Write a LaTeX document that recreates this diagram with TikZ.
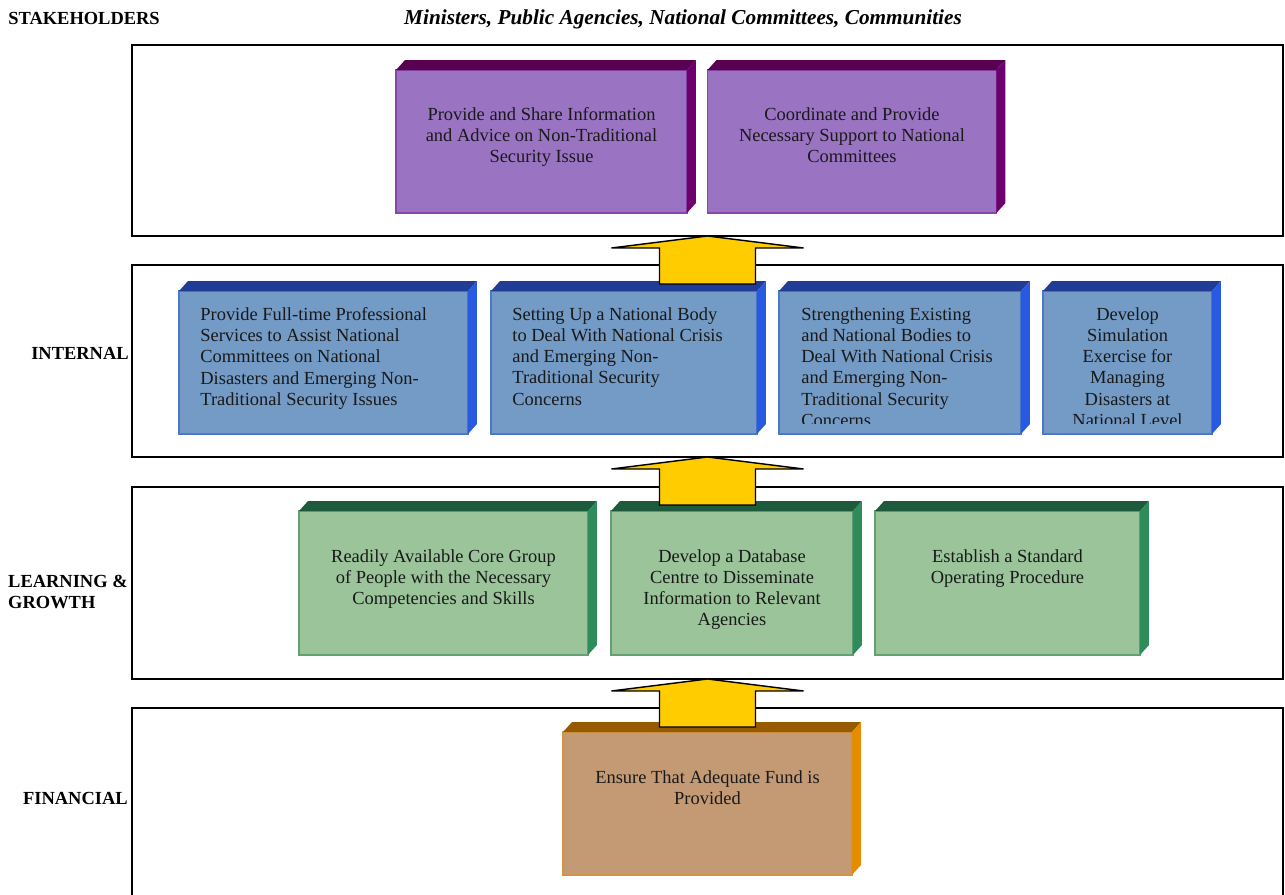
\documentclass[tikz,border=0pt]{standalone}
\usepackage{fontspec}
\setmainfont{Liberation Serif}
\usetikzlibrary{calc, positioning}

\definecolor{purpfront}{RGB}{155,115,195}
\definecolor{purpedge}{RGB}{135,70,170}
\definecolor{purptop}{RGB}{88,0,82}
\definecolor{purpside}{RGB}{110,0,110}
\definecolor{bluefront}{RGB}{115,155,198}
\definecolor{blueedge}{RGB}{75,120,200}
\definecolor{bluetop}{RGB}{33,60,150}
\definecolor{blueside}{RGB}{40,90,225}
\definecolor{greenfront}{RGB}{155,196,155}
\definecolor{greenedge}{RGB}{100,160,115}
\definecolor{greentop}{RGB}{30,90,60}
\definecolor{greenside}{RGB}{46,140,90}
\definecolor{brownfront}{RGB}{196,154,116}
\definecolor{brownedge}{RGB}{210,150,65}
\definecolor{browntop}{RGB}{150,90,0}
\definecolor{brownside}{RGB}{230,140,0}
\definecolor{arrowyellow}{RGB}{255,204,0}

\tikzset{
	panel/.style={draw=black, line width=1.2pt, minimum width=23.02cm, inner sep=0pt, outer sep=0pt},
	face/.style={line width=1pt, inner sep=0pt, outer sep=0pt},
	purplebox/.style={face, draw=purpedge, fill=purpfront},
	bluebox/.style={face, draw=blueedge, fill=bluefront},
	greenbox/.style={face, draw=greenedge, fill=greenfront},
	brownbox/.style={face, draw=brownedge, fill=brownfront},
	boxtext/.style={inner sep=0pt, text=black!90, font=\fontsize{10.5}{12.1}\selectfont},
	lbl/.style={inner sep=0pt, font=\fontsize{10.5}{12.1}\selectfont\bfseries},
	yellowarrow/.style={draw=black, fill=arrowyellow, line width=0.8pt, line join=miter}
}

% top and side faces of a box
\newcommand{\cubeside}[3]{
	\fill[#2] (#1.north west) -- ++(9,-10) -- ($(#1.north east)+(9,-10)$) -- (#1.north east) -- cycle;
	\fill[#3] (#1.north east) -- ++(9,-10) -- ($(#1.south east)+(9,-10)$) -- (#1.south east) -- cycle;
}
% block arrow, tip at #1
\newcommand{\liftarrow}[1]{
	\filldraw[yellowarrow] (#1) -- ++(96,12) -- ++(-48,0) -- ++(0,36) -- ++(-96,0) -- ++(0,-36) -- ++(-48,0) -- cycle;
}

\begin{document}
\begin{tikzpicture}[x=0.02cm, y=-0.02cm]

	\useasboundingbox (0,0) rectangle (1285,895);
	\clip (0,0) rectangle (1285,895);

	\node[lbl, anchor=west] (stkl) at (8,18) {STAKEHOLDERS};
	\node[lbl, font=\fontsize{12.1}{14}\selectfont\bfseries\itshape] (ttl) at (683,19) {Ministers, Public Agencies, National Committees, Communities};
	\node[lbl, anchor=east] (intl) at (129,353) {INTERNAL};
	\node[lbl, anchor=east, align=left] (lrnl) at (128,592) {LEARNING \&\\GROWTH};
	\node[lbl, anchor=east] (finl) at (128,798) {FINANCIAL};

	\node[panel, minimum height=3.82cm] (stk) at (707.5,140.5) {};
	\node[panel, minimum height=3.84cm] (int) at (707.5,361) {};
	\node[panel, minimum height=3.84cm] (lrn) at (707.5,583) {};
	\node[panel, minimum height=4.54cm] (fin) at (707.5,821.5) {};

	% stakeholders
	\node[purplebox, minimum width=5.82cm, minimum height=2.86cm] (pu1) at (541.5,141.5) {};
	\node[purplebox, minimum width=5.78cm, minimum height=2.86cm] (pu2) at (852,141.5) {};
	\cubeside{pu1}{purptop}{purpside}
	\cubeside{pu2}{purptop}{purpside}
	\node[boxtext, align=center, below=0.74cm of pu1.north] (pu1t) {Provide and Share Information\\and Advice on Non-Traditional\\Security Issue};
	\node[boxtext, align=center, below=0.74cm of pu2.north] (pu2t) {Coordinate and Provide\\Necessary Support to National\\Committees};

	% internal
	\node[bluebox, minimum width=5.78cm, minimum height=2.86cm] (bl1) at (323.5,362.5) {};
	\node[bluebox, minimum width=5.32cm, minimum height=2.86cm] (bl2) at (624,362.5) {};
	\node[bluebox, minimum width=4.84cm, minimum height=2.86cm] (bl3) at (900,362.5) {};
	\node[bluebox, minimum width=3.38cm, minimum height=2.86cm] (bl4) at (1127.5,362.5) {};
	\cubeside{bl1}{bluetop}{blueside}
	\cubeside{bl2}{bluetop}{blueside}
	\cubeside{bl3}{bluetop}{blueside}
	\cubeside{bl4}{bluetop}{blueside}
	\begin{scope}
		\clip (132,280) rectangle (1283,423);
		\node[boxtext, align=left, below right=0.32cm and 0.42cm of bl1.north west] (bl1t) {Provide Full-time Professional\\Services to Assist National\\Committees on National\\Disasters and Emerging Non-\\Traditional Security Issues};
		\node[boxtext, align=left, below right=0.32cm and 0.42cm of bl2.north west] (bl2t) {Setting Up a National Body\\to Deal With National Crisis\\and Emerging Non-\\Traditional Security\\Concerns};
		\node[boxtext, align=left, below right=0.32cm and 0.44cm of bl3.north west] (bl3t) {Strengthening Existing\\and National Bodies to\\Deal With National Crisis\\and Emerging Non-\\Traditional Security\\Concerns};
		\node[boxtext, align=center, below=0.32cm of bl4.north] (bl4t) {Develop\\Simulation\\Exercise for\\Managing\\Disasters at\\National Level};
	\end{scope}

	% learning & growth
	\node[greenbox, minimum width=5.78cm, minimum height=2.88cm] (gr1) at (443.5,583) {};
	\node[greenbox, minimum width=4.84cm, minimum height=2.88cm] (gr2) at (732,583) {};
	\node[greenbox, minimum width=5.30cm, minimum height=2.88cm] (gr3) at (1007.5,583) {};
	\cubeside{gr1}{greentop}{greenside}
	\cubeside{gr2}{greentop}{greenside}
	\cubeside{gr3}{greentop}{greenside}
	\node[boxtext, align=center, below=0.76cm of gr1.north] (gr1t) {Readily Available Core Group\\of People with the Necessary\\Competencies and Skills};
	\node[boxtext, align=center, below=0.76cm of gr2.north] (gr2t) {Develop a Database\\Centre to Disseminate\\Information to Relevant\\Agencies};
	\node[boxtext, align=center, below=0.76cm of gr3.north] (gr3t) {Establish a Standard\\Operating Procedure};

	% financial
	\node[brownbox, minimum width=5.78cm, minimum height=2.86cm] (br1) at (707.5,803.5) {};
	\cubeside{br1}{browntop}{brownside}
	\node[boxtext, align=center, below=0.76cm of br1.north] (br1t) {Ensure That Adequate Fund is\\Provided};

	\liftarrow{stk.south}
	\liftarrow{int.south}
	\liftarrow{lrn.south}

\end{tikzpicture}
\end{document}
